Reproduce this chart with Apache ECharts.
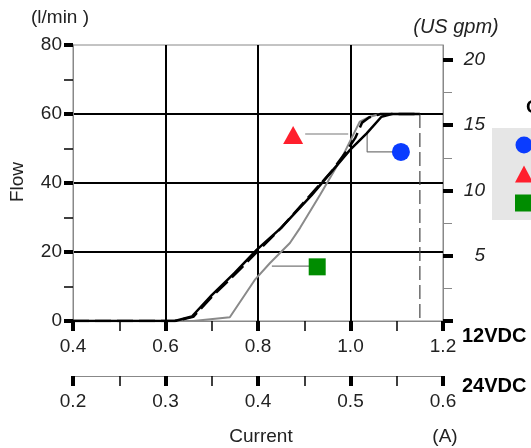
<!DOCTYPE html>
<html><head><meta charset="utf-8">
<script src="https://cdn.jsdelivr.net/npm/echarts@6/dist/echarts.min.js"></script>
<style>html,body{margin:0;padding:0;background:#fff}#c{width:531px;height:448px}</style>
</head><body><div id="c"></div><script>
// ---- data ----
const solidX = [0.4, 0.62, 0.657, 0.70, 0.75, 0.797, 0.85, 0.916, 0.999, 1.035, 1.067, 1.089, 1.15];
const solidY = [0, 0, 1.3, 7.5, 14, 20.6, 27, 36.5, 49.6, 54.4, 59.2, 60, 60];
const dashX = [0.4, 0.62, 0.66, 0.70, 0.75, 0.80, 0.85, 0.90, 0.93, 0.96, 0.99, 1.01, 1.025, 1.04, 1.065, 1.15];
const dashY = [0, 0, 1.2, 7, 13.5, 20.3, 27, 34.5, 39, 43.5, 49, 53, 57.5, 59, 60, 60];
const grayX = [0.4, 0.66, 0.739, 0.793, 0.826, 0.869, 0.891, 0.934, 0.98, 1.02, 1.042, 1.064, 1.15];
const grayY = [0, 0, 1.1, 11.9, 16.8, 22.6, 27, 36.5, 47, 57.8, 59.2, 60, 60];
const cutoffX = [1.15, 1.15];
const cutoffY = [60, 0];

const markerNames = ['Curve A', 'Curve B', 'Curve C'];
const markerSymbols = ['circle', 'triangle', 'rect'];
const markerColors = ['#0a3cff', '#ff1f2d', '#008c00'];
const markerX = [1.109, 0.876, 0.928];
const markerY = [49, 53.9, 15.7];
const leaderA_X = [1.036, 1.036, 1.092];
const leaderA_Y = [54.5, 49, 49];
const leaderB_X = [0.902, 0.995];
const leaderB_Y = [54.2, 54.2];
const leaderC_X = [0.830, 0.912];
const leaderC_Y = [15.9, 15.9];

const flowMin = 0, flowMax = 80, flowInterval = 20;
const amp12Min = 0.4, amp12Max = 1.2, amp12Interval = 0.2;
const amp24Min = 0.2, amp24Max = 0.6, amp24Interval = 0.1;
const gpmMajorTicks = [0, 5, 10, 15, 20];
const gpmLabels = [5, 10, 15, 20];
const gpmMinorTicks = [2.5, 7.5, 12.5, 17.5];
const LPM_PER_GPM = 3.785411784;

// ---- chart ----
const FONT = "'Liberation Sans', Arial, sans-serif";
const pair = (xs, ys) => xs.map((x, i) => [x, ys[i]]);
const chart = echarts.init(document.getElementById('c'), null, {renderer: 'canvas'});

const lineSeries = (data, color, width, type, z) => ({
  type: 'line', data, symbol: 'none', silent: true, z: z || 2,
  lineStyle: {color, width, type: type || 'solid'}, animation: false
});

const option = {
  animation: false,
  grid: {left: 73, top: 45, width: 370, height: 276, show: true, borderColor: '#888', borderWidth: 1, backgroundColor: 'transparent'},
  legend: {
    data: markerNames, orient: 'vertical', left: 492, top: 128,
    padding: [8.5, 10, 8.5, 23], itemGap: 12, itemWidth: 18, itemHeight: 17,
    backgroundColor: '#e6e6e6', selectedMode: false,
    itemStyle: {opacity: 1},
    textStyle: {fontSize: 12, fontFamily: FONT, color: '#000'}
  },
  xAxis: [{
    type: 'value', min: amp12Min, max: amp12Max, interval: amp12Interval, position: 'bottom',
    axisLine: {show: true, onZero: false, lineStyle: {color: '#888', width: 1}},
    axisTick: {show: true, length: 10, lineStyle: {color: '#000', width: 4}},
    minorTick: {show: true, splitNumber: 2, length: 10, lineStyle: {color: '#000', width: 1.5}},
    axisLabel: {margin: 16, fontSize: 19, fontFamily: FONT, color: '#222', formatter: v => v.toFixed(1)},
    splitLine: {show: true, showMinLine: false, showMaxLine: false, lineStyle: {color: '#000', width: 2}}
  }, {
    type: 'value', min: amp24Min, max: amp24Max, interval: amp24Interval, position: 'bottom', offset: 55,
    axisLine: {show: true, onZero: false, lineStyle: {color: '#888', width: 1}},
    axisTick: {show: true, length: 10, lineStyle: {color: '#000', width: 4}},
    minorTick: {show: true, splitNumber: 2, length: 10, lineStyle: {color: '#000', width: 1.5}},
    axisLabel: {margin: 16, fontSize: 19, fontFamily: FONT, color: '#222', formatter: v => v.toFixed(1)},
    splitLine: {show: false}
  }],
  yAxis: [{
    type: 'value', min: flowMin, max: flowMax, interval: flowInterval, position: 'left',
    axisLine: {show: true, onZero: false, lineStyle: {color: '#888', width: 1}},
    axisTick: {show: true, length: 9, lineStyle: {color: '#000', width: 4}},
    minorTick: {show: true, splitNumber: 2, length: 9, lineStyle: {color: '#000', width: 1.5}},
    axisLabel: {margin: 11, fontSize: 19, fontFamily: FONT, color: '#222'},
    splitLine: {show: true, showMinLine: false, showMaxLine: false, lineStyle: {color: '#000', width: 2}}
  }, {
    type: 'value', min: 0, max: flowMax / LPM_PER_GPM, position: 'right',
    axisLine: {show: true, onZero: false, lineStyle: {color: '#888', width: 1}},
    axisTick: {show: true, customValues: gpmMajorTicks, length: 10, lineStyle: {color: '#000', width: 4}},
    axisLabel: {customValues: gpmLabels, margin: 42, align: 'right', fontSize: 19, fontStyle: 'italic', fontFamily: FONT, color: '#222', formatter: v => String(v)},
    splitLine: {show: false}
  }, {
    type: 'value', min: 0, max: flowMax / LPM_PER_GPM, position: 'right',
    axisLine: {show: false, onZero: false},
    axisTick: {show: true, customValues: gpmMinorTicks, length: 9, lineStyle: {color: '#888', width: 1}},
    axisLabel: {show: false},
    splitLine: {show: false}
  }],
  series: [
    lineSeries(pair(cutoffX, cutoffY), '#444', 1.2, [14, 5], 2),
    lineSeries(pair(grayX, grayY), '#8a8a8a', 2, 'solid', 3),
    lineSeries(pair(solidX, solidY), '#000', 2.5, 'solid', 4),
    lineSeries(pair(dashX, dashY), '#000', 2.5, [16, 6], 5),
    lineSeries(pair(leaderA_X, leaderA_Y), '#777', 1.2, 'solid', 3),
    lineSeries(pair(leaderB_X, leaderB_Y), '#777', 1.2, 'solid', 3),
    lineSeries(pair(leaderC_X, leaderC_Y), '#777', 1.2, 'solid', 3),
  ].concat(markerNames.map((name, i) => ({
    type: 'scatter', name, symbol: markerSymbols[i],
    symbolSize: markerSymbols[i] === 'triangle' ? [20, 18] : (markerSymbols[i] === 'rect' ? 17 : 18),
    itemStyle: {color: markerColors[i], opacity: 1}, z: 6, silent: true,
    data: [[markerX[i], markerY[i]]]
  }))),
  graphic: [
    {type: 'text', x: 60, y: 18, style: {text: '(l/min )', font: '19px ' + FONT, fill: '#222', align: 'center', verticalAlign: 'middle'}},
    {type: 'text', x: 456, y: 27, style: {text: '(US gpm)', font: 'italic 20px ' + FONT, fill: '#222', align: 'center', verticalAlign: 'middle'}},
    {type: 'text', x: 18, y: 182, rotation: Math.PI / 2, style: {text: 'Flow', font: '19px ' + FONT, fill: '#222', align: 'center', verticalAlign: 'middle'}},
    {type: 'text', x: 261, y: 437, style: {text: 'Current', font: '19px ' + FONT, fill: '#222', align: 'center', verticalAlign: 'middle'}},
    {type: 'text', x: 445, y: 437, style: {text: '(A)', font: '19px ' + FONT, fill: '#222', align: 'center', verticalAlign: 'middle'}},
    {type: 'text', x: 462, y: 336, style: {text: '12VDC', font: 'bold 20px ' + FONT, fill: '#000', align: 'left', verticalAlign: 'middle'}},
    {type: 'text', x: 462, y: 386, style: {text: '24VDC', font: 'bold 20px ' + FONT, fill: '#000', align: 'left', verticalAlign: 'middle'}},
    {type: 'text', x: 526, y: 108, style: {text: 'C', font: 'bold 19px ' + FONT, fill: '#000', align: 'left', verticalAlign: 'middle'}}
  ]
};
chart.setOption(option);
</script></body></html>
